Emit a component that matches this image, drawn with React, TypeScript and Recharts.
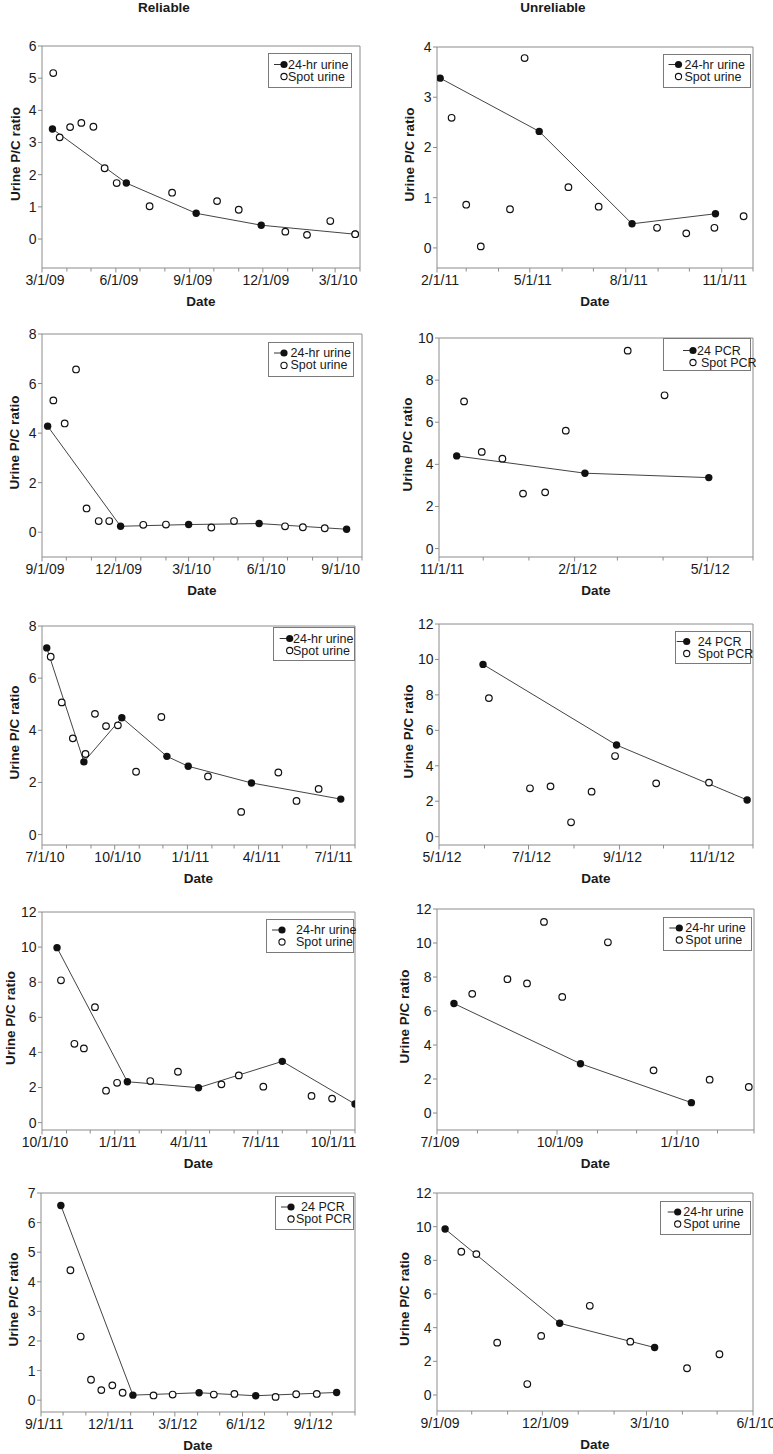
import React from 'react';
import { ScatterChart, Scatter, XAxis, YAxis, ReferenceLine, Legend } from 'recharts';

const FONT = 'Arial, "Liberation Sans", Helvetica, sans-serif';
const AXIS = '#8c8c8c';
const INK = '#1a1a1a';

type Pt = { date: string; ratio: number };

// ---------- Data (M/D/YY, urine protein/creatinine ratio) ----------
// Reliable column
const p1Hr: Pt[] = [
  { date: '3/14/09', ratio: 3.42 }, { date: '6/14/09', ratio: 1.74 }, { date: '9/9/09', ratio: 0.8 },
  { date: '11/29/09', ratio: 0.43 }, { date: '3/26/10', ratio: 0.15 },
];
const p1Spot: Pt[] = [
  { date: '3/15/09', ratio: 5.16 }, { date: '3/23/09', ratio: 3.16 }, { date: '4/5/09', ratio: 3.48 },
  { date: '4/19/09', ratio: 3.61 }, { date: '5/4/09', ratio: 3.49 }, { date: '5/18/09', ratio: 2.2 },
  { date: '6/2/09', ratio: 1.74 }, { date: '7/13/09', ratio: 1.02 }, { date: '8/10/09', ratio: 1.44 },
  { date: '10/5/09', ratio: 1.18 }, { date: '11/1/09', ratio: 0.91 }, { date: '12/29/09', ratio: 0.23 },
  { date: '1/25/10', ratio: 0.13 }, { date: '2/23/10', ratio: 0.56 }, { date: '3/26/10', ratio: 0.15 },
];
const p3Hr: Pt[] = [
  { date: '9/8/09', ratio: 4.28 }, { date: '12/7/09', ratio: 0.24 }, { date: '3/1/10', ratio: 0.31 },
  { date: '5/27/10', ratio: 0.35 }, { date: '9/12/10', ratio: 0.12 },
];
const p3Spot: Pt[] = [
  { date: '9/15/09', ratio: 5.32 }, { date: '9/29/09', ratio: 4.39 }, { date: '10/13/09', ratio: 6.57 },
  { date: '10/26/09', ratio: 0.96 }, { date: '11/10/09', ratio: 0.45 }, { date: '11/23/09', ratio: 0.45 },
  { date: '1/4/10', ratio: 0.3 }, { date: '2/1/10', ratio: 0.31 }, { date: '3/29/10', ratio: 0.19 },
  { date: '4/26/10', ratio: 0.45 }, { date: '6/28/10', ratio: 0.24 }, { date: '7/20/10', ratio: 0.2 },
  { date: '8/16/10', ratio: 0.16 },
];
const p5Hr: Pt[] = [
  { date: '7/7/10', ratio: 7.16 }, { date: '8/23/10', ratio: 2.79 }, { date: '10/10/10', ratio: 4.48 },
  { date: '12/6/10', ratio: 3.0 }, { date: '1/2/11', ratio: 2.62 }, { date: '3/23/11', ratio: 1.98 },
  { date: '7/14/11', ratio: 1.36 },
];
const p5Spot: Pt[] = [
  { date: '7/12/10', ratio: 6.82 }, { date: '7/26/10', ratio: 5.07 }, { date: '8/9/10', ratio: 3.69 },
  { date: '8/25/10', ratio: 3.09 }, { date: '9/6/10', ratio: 4.63 }, { date: '9/20/10', ratio: 4.16 },
  { date: '10/5/10', ratio: 4.19 }, { date: '10/28/10', ratio: 2.41 }, { date: '11/29/10', ratio: 4.51 },
  { date: '1/27/11', ratio: 2.23 }, { date: '3/10/11', ratio: 0.87 }, { date: '4/26/11', ratio: 2.38 },
  { date: '5/19/11', ratio: 1.29 }, { date: '6/16/11', ratio: 1.75 },
];
const p7Hr: Pt[] = [
  { date: '10/20/10', ratio: 9.97 }, { date: '1/17/11', ratio: 2.33 }, { date: '4/17/11', ratio: 1.99 },
  { date: '8/1/11', ratio: 3.49 }, { date: '11/1/11', ratio: 1.06 },
];
const p7Spot: Pt[] = [
  { date: '10/25/10', ratio: 8.11 }, { date: '11/11/10', ratio: 4.49 }, { date: '11/23/10', ratio: 4.23 },
  { date: '12/7/10', ratio: 6.58 }, { date: '12/21/10', ratio: 1.82 }, { date: '1/4/11', ratio: 2.27 },
  { date: '2/15/11', ratio: 2.37 }, { date: '3/22/11', ratio: 2.9 }, { date: '5/16/11', ratio: 2.18 },
  { date: '6/7/11', ratio: 2.69 }, { date: '7/8/11', ratio: 2.05 }, { date: '9/7/11', ratio: 1.52 },
  { date: '10/3/11', ratio: 1.37 },
];
const p9Hr: Pt[] = [
  { date: '9/28/11', ratio: 6.58 }, { date: '1/4/12', ratio: 0.17 }, { date: '4/3/12', ratio: 0.25 },
  { date: '6/19/12', ratio: 0.15 }, { date: '10/7/12', ratio: 0.26 },
];
const p9Spot: Pt[] = [
  { date: '10/11/11', ratio: 4.39 }, { date: '10/25/11', ratio: 2.15 }, { date: '11/8/11', ratio: 0.69 },
  { date: '11/22/11', ratio: 0.34 }, { date: '12/7/11', ratio: 0.5 }, { date: '12/21/11', ratio: 0.25 },
  { date: '2/1/12', ratio: 0.16 }, { date: '2/27/12', ratio: 0.19 }, { date: '4/23/12', ratio: 0.19 },
  { date: '5/21/12', ratio: 0.21 }, { date: '7/16/12', ratio: 0.11 }, { date: '8/13/12', ratio: 0.2 },
  { date: '9/10/12', ratio: 0.21 },
];

// Unreliable column
const p2Hr: Pt[] = [
  { date: '2/4/11', ratio: 3.38 }, { date: '5/10/11', ratio: 2.32 }, { date: '8/7/11', ratio: 0.48 },
  { date: '10/26/11', ratio: 0.68 },
];
const p2Spot: Pt[] = [
  { date: '2/15/11', ratio: 2.59 }, { date: '3/1/11', ratio: 0.86 }, { date: '3/15/11', ratio: 0.03 },
  { date: '4/12/11', ratio: 0.77 }, { date: '4/26/11', ratio: 3.78 }, { date: '6/7/11', ratio: 1.21 },
  { date: '7/6/11', ratio: 0.82 }, { date: '8/31/11', ratio: 0.4 }, { date: '9/28/11', ratio: 0.29 },
  { date: '10/25/11', ratio: 0.4 }, { date: '11/22/11', ratio: 0.63 },
];
const p4Hr: Pt[] = [
  { date: '11/13/11', ratio: 4.4 }, { date: '2/8/12', ratio: 3.58 }, { date: '5/2/12', ratio: 3.37 },
];
const p4Spot: Pt[] = [
  { date: '11/18/11', ratio: 6.99 }, { date: '11/30/11', ratio: 4.59 }, { date: '12/14/11', ratio: 4.27 },
  { date: '12/28/11', ratio: 2.61 }, { date: '1/12/12', ratio: 2.67 }, { date: '1/26/12', ratio: 5.6 },
  { date: '3/8/12', ratio: 9.4 }, { date: '4/2/12', ratio: 7.28 },
];
const p6Hr: Pt[] = [
  { date: '5/31/12', ratio: 9.72 }, { date: '8/30/12', ratio: 5.17 }, { date: '11/27/12', ratio: 2.07 },
];
const p6Spot: Pt[] = [
  { date: '6/4/12', ratio: 7.82 }, { date: '7/2/12', ratio: 2.73 }, { date: '7/16/12', ratio: 2.84 },
  { date: '7/30/12', ratio: 0.81 }, { date: '8/13/12', ratio: 2.54 }, { date: '8/29/12', ratio: 4.55 },
  { date: '9/26/12', ratio: 3.01 }, { date: '11/1/12', ratio: 3.05 },
];
const p8Hr: Pt[] = [
  { date: '7/14/09', ratio: 6.44 }, { date: '10/19/09', ratio: 2.9 }, { date: '1/12/10', ratio: 0.61 },
];
const p8Spot: Pt[] = [
  { date: '7/28/09', ratio: 7.01 }, { date: '8/24/09', ratio: 7.87 }, { date: '9/8/09', ratio: 7.62 },
  { date: '9/21/09', ratio: 11.24 }, { date: '10/5/09', ratio: 6.83 }, { date: '11/9/09', ratio: 10.04 },
  { date: '12/14/09', ratio: 2.51 }, { date: '1/26/10', ratio: 1.96 }, { date: '2/25/10', ratio: 1.53 },
];
const p10Hr: Pt[] = [
  { date: '9/8/09', ratio: 9.86 }, { date: '12/16/09', ratio: 4.26 }, { date: '3/8/10', ratio: 2.82 },
];
const p10Spot: Pt[] = [
  { date: '9/22/09', ratio: 8.51 }, { date: '10/5/09', ratio: 8.37 }, { date: '10/23/09', ratio: 3.11 },
  { date: '11/18/09', ratio: 0.65 }, { date: '11/30/09', ratio: 3.51 }, { date: '1/11/10', ratio: 5.3 },
  { date: '2/15/10', ratio: 3.17 }, { date: '4/5/10', ratio: 1.59 }, { date: '5/3/10', ratio: 2.42 },
];

// ---------- Tick labels ----------
const p1Majors = ['3/1/09', '6/1/09', '9/1/09', '12/1/09', '3/1/10'];
const p2Majors = ['2/1/11', '5/1/11', '8/1/11', '11/1/11'];
const p3Majors = ['9/1/09', '12/1/09', '3/1/10', '6/1/10', '9/1/10'];
const p4Majors = ['11/1/11', '2/1/12', '5/1/12'];
const p5Majors = ['7/1/10', '10/1/10', '1/1/11', '4/1/11', '7/1/11'];
const p6Majors = ['5/1/12', '7/1/12', '9/1/12', '11/1/12'];
const p7Majors = ['10/1/10', '1/1/11', '4/1/11', '7/1/11', '10/1/11'];
const p8Majors = ['7/1/09', '10/1/09', '1/1/10'];
const p9Majors = ['9/1/11', '12/1/11', '3/1/12', '6/1/12', '9/1/12'];
const p10Majors = ['9/1/09', '12/1/09', '3/1/10', '6/1/10'];

const yTicks4 = [0, 1, 2, 3, 4];
const yTicks6 = [0, 1, 2, 3, 4, 5, 6];
const yTicks7 = [0, 1, 2, 3, 4, 5, 6, 7];
const yTicks8 = [0, 2, 4, 6, 8];
const yTicks10 = [0, 2, 4, 6, 8, 10];
const yTicks12 = [0, 2, 4, 6, 8, 10, 12];

const URINE = ['24-hr urine', 'Spot urine'];
const PCR = ['24 PCR', 'Spot PCR'];

// ---------- helpers ----------
const toT = (s: string) => {
  const [m, d, y] = s.split('/').map(Number);
  return Date.UTC(2000 + y, m - 1, d);
};
const monthTicks = (start: string, end: string) => {
  const s = new Date(toT(start));
  const e = toT(end);
  const out: number[] = [];
  let y = s.getUTCFullYear();
  let m = s.getUTCMonth();
  for (;;) {
    const t = Date.UTC(y, m, 1);
    if (t > e) break;
    out.push(t);
    m += 1;
    if (m > 11) { m = 0; y += 1; }
  }
  return out;
};

type Lg = { x: number; y: number; w: number; h: number; mx: number; tx: number; tx2: number; r1: number; r2: number };
type Cfg = {
  hr: Pt[]; spot: Pt[]; names: string[];
  xStart: string; xEnd: string; majors: string[];
  yMin: number; yMax: number; yTicks: number[];
  x0: number; x1: number; y0: number; y1: number;
  lg: Lg; ylabOff: number;
};

const panels: Cfg[] = [
  { hr: p1Hr, spot: p1Spot, names: URINE, xStart: '3/1/09', xEnd: '4/1/10', majors: p1Majors, yMin: -0.9, yMax: 6, yTicks: yTicks6,
    x0: 42, x1: 360, y0: 46, y1: 268, lg: { x: 268, y: 53, w: 84, h: 35, mx: 16, tx: 20, tx2: 20, r1: 11.5, r2: 23.5 }, ylabOff: 27 },
  { hr: p2Hr, spot: p2Spot, names: URINE, xStart: '2/1/11', xEnd: '12/1/11', majors: p2Majors, yMin: -0.4, yMax: 4, yTicks: yTicks4,
    x0: 437, x1: 753, y0: 47, y1: 268, lg: { x: 663, y: 54, w: 88, h: 34, mx: 15.5, tx: 21.5, tx2: 21.5, r1: 10.5, r2: 22.5 }, ylabOff: 28 },
  { hr: p3Hr, spot: p3Spot, names: URINE, xStart: '9/1/09', xEnd: '10/1/10', majors: p3Majors, yMin: -1, yMax: 8, yTicks: yTicks8,
    x0: 42, x1: 362, y0: 334, y1: 557, lg: { x: 268, y: 342, w: 86, h: 35, mx: 16, tx: 22.5, tx2: 22.5, r1: 11, r2: 23.4 }, ylabOff: 28 },
  { hr: p4Hr, spot: p4Spot, names: PCR, xStart: '11/1/11', xEnd: '6/1/12', majors: p4Majors, yMin: -0.4, yMax: 10, yTicks: yTicks10,
    x0: 439, x1: 753, y0: 338, y1: 557, lg: { x: 663, y: 338, w: 88, h: 33, mx: 30, tx: 34, tx2: 38, r1: 12.5, r2: 24.5 }, ylabOff: 32 },
  { hr: p5Hr, spot: p5Spot, names: URINE, xStart: '7/1/10', xEnd: '8/1/11', majors: p5Majors, yMin: -0.4, yMax: 8, yTicks: yTicks8,
    x0: 42, x1: 355, y0: 626, y1: 845, lg: { x: 273, y: 627, w: 82, h: 34, mx: 16.7, tx: 20, tx2: 20, r1: 11.5, r2: 23.5 }, ylabOff: 28 },
  { hr: p6Hr, spot: p6Spot, names: PCR, xStart: '5/1/12', xEnd: '12/1/12', majors: p6Majors, yMin: -0.47, yMax: 12, yTicks: yTicks12,
    x0: 439, x1: 753, y0: 624, y1: 845, lg: { x: 675, y: 631, w: 76, h: 33, mx: 11.7, tx: 22.7, tx2: 22.7, r1: 10.5, r2: 22.5 }, ylabOff: 31 },
  { hr: p7Hr, spot: p7Spot, names: URINE, xStart: '10/1/10', xEnd: '11/1/11', majors: p7Majors, yMin: -0.42, yMax: 12, yTicks: yTicks12,
    x0: 42, x1: 355, y0: 912, y1: 1130, lg: { x: 266, y: 919, w: 88, h: 34, mx: 16, tx: 30, tx2: 30, r1: 11, r2: 23 }, ylabOff: 32 },
  { hr: p8Hr, spot: p8Spot, names: URINE, xStart: '7/1/09', xEnd: '3/1/10', majors: p8Majors, yMin: -1, yMax: 12, yTicks: yTicks12,
    x0: 437, x1: 754, y0: 909, y1: 1130, lg: { x: 663, y: 917, w: 89, h: 34, mx: 16.3, tx: 22.3, tx2: 22.3, r1: 11, r2: 23 }, ylabOff: 33 },
  { hr: p9Hr, spot: p9Spot, names: PCR, xStart: '9/1/11', xEnd: '11/1/12', majors: p9Majors, yMin: -0.4, yMax: 7, yTicks: yTicks7,
    x0: 41, x1: 355, y0: 1193, y1: 1412, lg: { x: 275, y: 1196, w: 79, h: 34, mx: 16, tx: 26, tx2: 21, r1: 11, r2: 23 }, ylabOff: 27.5 },
  { hr: p10Hr, spot: p10Spot, names: URINE, xStart: '9/1/09', xEnd: '6/1/10', majors: p10Majors, yMin: -0.95, yMax: 12, yTicks: yTicks12,
    x0: 437, x1: 753, y0: 1193, y1: 1411, lg: { x: 660, y: 1201, w: 91, h: 34, mx: 17.7, tx: 23.3, tx2: 23.3, r1: 11, r2: 23 }, ylabOff: 33 },
];

const filledDot = (props: any) => <circle cx={props.cx} cy={props.cy} r={3.7} fill="#111" />;
const openDot = (props: any) => (
  <circle cx={props.cx} cy={props.cy} r={3.3} fill="#fff" stroke="#111" strokeWidth={1.2} />
);

function LegendBox({ lg, names }: { lg: Lg; names: string[] }) {
  return (
    <svg width={lg.w} height={lg.h} style={{ display: 'block', overflow: 'visible' }}>
      <rect x={0.5} y={0.5} width={lg.w - 1} height={lg.h - 1} fill="#fff" stroke="#7a7a7a" strokeWidth={1} />
      <line x1={lg.mx - 10} x2={lg.mx + 3} y1={lg.r1} y2={lg.r1} stroke="#333" strokeWidth={1} />
      <circle cx={lg.mx} cy={lg.r1} r={3.6} fill="#111" />
      <text x={lg.tx} y={lg.r1} dominantBaseline="central" fontSize={12.5} fontFamily={FONT} fill={INK}>{names[0]}</text>
      <circle cx={lg.mx} cy={lg.r2} r={3.1} fill="#fff" stroke="#111" strokeWidth={1.1} />
      <text x={lg.tx2} y={lg.r2} dominantBaseline="central" fontSize={12.5} fontFamily={FONT} fill={INK}>{names[1]}</text>
    </svg>
  );
}

function Panel({ p }: { p: Cfg }) {
  const left = p.x0 - 60;
  const top = p.y0 - 20;
  const width = p.x1 - p.x0 + 80;
  const height = p.y1 - p.y0 + 60;
  const plotH = p.y1 - p.y0;
  const plotW = p.x1 - p.x0;
  const hrData = p.hr.map((d) => ({ t: toT(d.date), v: d.ratio }));
  const spotData = p.spot.map((d) => ({ t: toT(d.date), v: d.ratio }));
  const labelOf = new Map<number, string>(p.majors.map((s) => [toT(s), s] as [number, string]));
  const xMin = toT(p.xStart);
  const xMax = toT(p.xEnd);

  const renderTick = (props: any) => {
    const { x, y, payload } = props;
    const lab = labelOf.get(payload.value);
    return (
      <g>
        <line x1={x} x2={x} y1={y} y2={y + (lab ? 4.5 : 3.5)} stroke={AXIS} strokeWidth={1} />
        {lab ? (
          <text x={x + 3} y={y + 12} textAnchor="middle" dominantBaseline="central" fontSize={14} fontFamily={FONT} fill={INK}>
            {lab}
          </text>
        ) : null}
      </g>
    );
  };

  const xLabel = () => (
    <text x={60 + plotW / 2} y={20 + plotH + 33.5} textAnchor="middle" dominantBaseline="central" fontSize={13.5} fontWeight="bold" fontFamily={FONT} fill={INK}>
      Date
    </text>
  );
  const yLabel = () => {
    const cx = 60 - p.ylabOff;
    const cy = 20 + plotH / 2 - 3;
    return (
      <text x={cx} y={cy} transform={`rotate(-90 ${cx} ${cy})`} textAnchor="middle" dominantBaseline="central" fontSize={13.5} fontWeight="bold" fontFamily={FONT} fill={INK}>
        Urine P/C ratio
      </text>
    );
  };

  return (
    <div style={{ position: 'absolute', left, top, width, height }}>
      <ScatterChart width={width} height={height} margin={{ top: 20, right: 20, bottom: 0, left: 15 }}>
        <XAxis
          type="number"
          dataKey="t"
          domain={[xMin, xMax]}
          ticks={monthTicks(p.xStart, p.xEnd)}
          interval={0}
          tickSize={0}
          tickMargin={0}
          height={40}
          allowDataOverflow
          axisLine={{ stroke: AXIS }}
          tickLine={false}
          tick={renderTick}
          label={xLabel}
        />
        <YAxis
          type="number"
          dataKey="v"
          domain={[p.yMin, p.yMax]}
          ticks={p.yTicks}
          interval={0}
          width={45}
          tickSize={4}
          tickMargin={1.5}
          allowDataOverflow
          axisLine={{ stroke: AXIS }}
          tickLine={{ stroke: AXIS }}
          tick={{ fill: INK, fontSize: 14, fontFamily: FONT }}
          label={yLabel}
        />
        <ReferenceLine y={p.yMax} stroke={AXIS} strokeWidth={1} />
        <ReferenceLine x={xMax} stroke={AXIS} strokeWidth={1} />
        <Scatter
          name={p.names[0]}
          data={hrData}
          fill="#111"
          line={{ stroke: '#444', strokeWidth: 1 }}
          shape={filledDot}
          isAnimationActive={false}
        />
        <Scatter name={p.names[1]} data={spotData} fill="#fff" shape={openDot} isAnimationActive={false} />
        <Legend
          layout="vertical"
          align="center"
          verticalAlign="middle"
          wrapperStyle={{ left: p.lg.x - left, top: p.lg.y - top, width: p.lg.w, height: p.lg.h, margin: 0, padding: 0, lineHeight: 0 }}
          content={() => <LegendBox lg={p.lg} names={p.names} />}
        />
      </ScatterChart>
    </div>
  );
}

export default function App() {
  const titleStyle: React.CSSProperties = {
    position: 'absolute',
    top: 8,
    transform: 'translate(-50%, -50%)',
    fontFamily: FONT,
    fontWeight: 'bold',
    fontSize: 13.5,
    color: INK,
    whiteSpace: 'nowrap',
    lineHeight: 1,
  };
  return (
    <div style={{ position: 'absolute', left: 0, top: 0, width: 773, height: 1454, overflow: 'hidden', background: '#fff' }}>
      <div style={{ ...titleStyle, left: 164 }}>Reliable</div>
      <div style={{ ...titleStyle, left: 553 }}>Unreliable</div>
      {panels.map((p, i) => (
        <Panel key={i} p={p} />
      ))}
    </div>
  );
}
